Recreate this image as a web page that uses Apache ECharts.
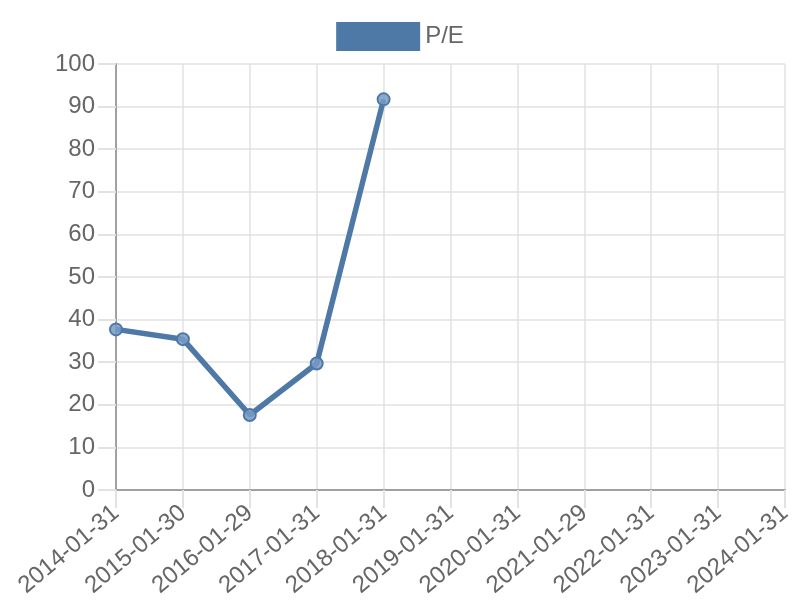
<!DOCTYPE html>
<html>
<head>
<meta charset="utf-8">
<script src="https://cdn.jsdelivr.net/npm/echarts@6/dist/echarts.min.js"></script>
<style>
  html, body { margin: 0; padding: 0; background: #fff; }
  #chart { width: 800px; height: 600px; }
</style>
</head>
<body>
<div id="chart"></div>
<script>
// dates on the x axis (one per year)
var dates = ['2014-01-31', '2015-01-30', '2016-01-29', '2017-01-31', '2018-01-31',
  '2019-01-31', '2020-01-31', '2021-01-29', '2022-01-31', '2023-01-31', '2024-01-31'];
// P/E values, only the first five years have data
var peValues = [37.7, 35.4, 17.6, 29.7, 91.7, null, null, null, null, null, null];
var yTicks = { min: 0, max: 100, step: 10 };

var chart = echarts.init(document.getElementById('chart'));
var blue = '#4e79a7';
var gridColor = '#e2e2e2';
var textColor = '#666';
var font = 'Liberation Sans, Arial, sans-serif';

var option = {
  animation: false,
  legend: {
    data: ['P/E'],
    top: 17,
    left: 'center',
    itemWidth: 84,
    itemHeight: 29,
    itemGap: 10,
    icon: 'rect',
    itemStyle: { color: blue, borderWidth: 0 },
    textStyle: { color: textColor, fontSize: 24, fontFamily: font }
  },
  grid: {
    left: 116,
    right: 15,
    top: 64,
    bottom: 109
  },
  xAxis: {
    type: 'category',
    boundaryGap: false,
    data: dates,
    axisLine: { lineStyle: { color: '#a0a0a0', width: 2 } },
    axisTick: { length: 18, lineStyle: { color: gridColor, width: 2 } },
    splitLine: { show: true, lineStyle: { color: gridColor, width: 1.5 } },
    axisLabel: {
      rotate: 40,
      interval: 0,
      margin: 20,
      color: textColor,
      fontSize: 24,
      fontFamily: font
    }
  },
  yAxis: {
    type: 'value',
    min: yTicks.min,
    max: yTicks.max,
    interval: yTicks.step,
    axisLine: { show: true, lineStyle: { color: '#a0a0a0', width: 2 } },
    axisTick: { show: true, length: 18, lineStyle: { color: gridColor, width: 2 } },
    splitLine: { lineStyle: { color: gridColor, width: 1.5 } },
    axisLabel: {
      margin: 21,
      color: textColor,
      fontSize: 24,
      fontFamily: font
    }
  },
  series: [{
    name: 'P/E',
    type: 'line',
    data: peValues,
    connectNulls: false,
    symbol: 'circle',
    symbolSize: 12,
    lineStyle: { color: blue, width: 5.5 },
    itemStyle: { color: 'rgba(120,155,195,0.85)', borderColor: blue, borderWidth: 2 }
  }],
  color: [blue]
};

chart.setOption(option);
</script>
</body>
</html>
